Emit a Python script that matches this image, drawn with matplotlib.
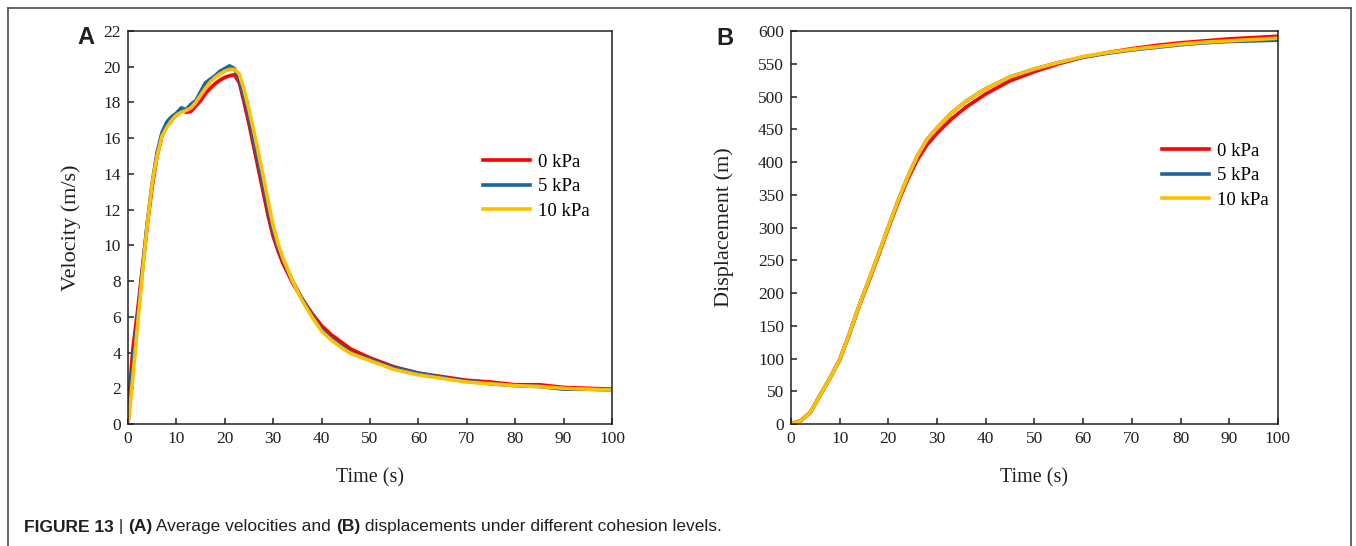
import matplotlib
matplotlib.use("Agg")
import matplotlib.pyplot as plt
from matplotlib.lines import Line2D

plt.rcParams['font.family'] = ['Liberation Serif', 'DejaVu Serif']

# --- velocity (A) ---
t_v = [0, 0.5, 1, 2, 3, 4, 5, 6, 7, 8, 9, 10, 11, 12, 13, 14, 15, 16, 17, 18, 19, 20,
       21, 22, 23, 24, 25, 26, 27, 28, 29, 30, 31, 32, 34, 36, 38, 40, 42, 44, 46, 48, 50,
       55, 60, 65, 70, 75, 80, 85, 90, 95, 100]
v_0kpa = [0, 2.5, 4.2, 6.4, 8.8, 11.2, 13.3, 15.0, 16.1, 16.7, 17.0, 17.3, 17.6, 17.45, 17.5,
          17.8, 18.1, 18.5, 18.8, 19.05, 19.25, 19.4, 19.5, 19.55, 19.1, 18.0, 16.8, 15.5,
          14.2, 12.9, 11.6, 10.5, 9.7, 9.0, 7.9, 7.0, 6.2, 5.5, 5.0, 4.6, 4.2, 3.95, 3.7,
          3.2, 2.85, 2.65, 2.45, 2.35, 2.2, 2.2, 2.05, 2.0, 1.95]
v_5kpa = [0, 1.8, 3.4, 6.0, 8.7, 11.3, 13.5, 15.2, 16.3, 16.9, 17.2, 17.4, 17.7, 17.6, 17.9,
          18.1, 18.6, 19.1, 19.3, 19.5, 19.75, 19.9, 20.05, 19.9, 19.3, 18.3, 17.2, 15.9,
          14.6, 13.3, 12.0, 10.8, 9.9, 9.2, 8.0, 7.0, 6.1, 5.3, 4.8, 4.4, 4.0, 3.8, 3.6,
          3.15, 2.85, 2.6, 2.4, 2.25, 2.15, 2.1, 1.95, 1.95, 1.9]
v_10kpa = [0, 1.2, 2.6, 5.6, 8.5, 11.2, 13.5, 15.0, 16.1, 16.6, 17.0, 17.3, 17.45, 17.55, 17.7,
           18.0, 18.4, 18.8, 19.15, 19.4, 19.6, 19.75, 19.85, 19.85, 19.6, 18.7, 17.6, 16.4,
           15.1, 13.8, 12.4, 11.1, 10.1, 9.3, 8.0, 6.9, 6.0, 5.2, 4.7, 4.3, 3.95, 3.75, 3.55,
           3.05, 2.75, 2.55, 2.35, 2.25, 2.15, 2.1, 2.0, 1.95, 1.9]

# --- displacement (B) ---
t_d = [0, 2, 4, 6, 8, 10, 12, 14, 16, 18, 20, 22, 24, 26, 28, 30, 33, 36, 40, 45, 50,
       55, 60, 65, 70, 75, 80, 85, 90, 95, 100]
d_0kpa = [0, 5, 18, 44, 70, 98, 137, 180, 218, 258, 299, 338, 374, 404, 427, 444, 466, 484,
          504, 524, 538, 550, 560, 567, 573, 578, 582, 585, 588, 590, 592]
d_5kpa = [0, 5, 18, 44, 70, 98, 138, 181, 220, 260, 301, 341, 378, 410, 435, 452, 475, 493,
          512, 530, 542, 552, 560, 566, 571, 575, 579, 582, 584, 585, 586]
d_10kpa = [0, 5, 18, 44, 70, 98, 138, 181, 220, 260, 301, 341, 378, 410, 435, 452, 475, 493,
           512, 530, 542, 552, 561, 567, 572, 576, 580, 583, 585, 587, 589]

labels = ['0 kPa', '5 kPa', '10 kPa']
colors = ['#ff0000', '#1a63a5', '#ffc000']
ink = '#231f20'

fig = plt.figure(figsize=(13.56, 5.46), dpi=100)
axA = fig.add_axes([0.0944, 0.2234, 0.3569, 0.7198])
axB = fig.add_axes([0.5833, 0.2234, 0.3591, 0.7198])

for ax in (axA, axB):
    for s in ax.spines.values():
        s.set_linewidth(1.1)
        s.set_color(ink)
    ax.tick_params(direction='in', length=4, width=1.1, labelsize=12.5,
                   colors=ink, pad=5)
    ax.set_xlim(0, 100)
    ax.set_xticks(range(0, 101, 10))
    ax.set_xlabel('Time (s)', fontsize=14.5, color=ink)
    ax.xaxis.set_label_coords(0.5, -0.112)

for v, c, lab in zip([v_0kpa, v_5kpa, v_10kpa], colors, labels):
    axA.plot(t_v, v, color=c, lw=2.6, label=lab)
axA.set_ylim(0, 22)
axA.set_yticks(range(0, 23, 2))
axA.set_ylabel('Velocity (m/s)', fontsize=16, color=ink)
axA.yaxis.set_label_coords(-0.097, 0.5)

for d, c, lab in zip([d_0kpa, d_5kpa, d_10kpa], colors, labels):
    axB.plot(t_d, d, color=c, lw=2.6, label=lab)
axB.set_ylim(0, 600)
axB.set_yticks(range(0, 601, 50))
axB.set_ylabel('Displacement (m)', fontsize=16, color=ink)
axB.yaxis.set_label_coords(-0.117, 0.5)

leg_kw = dict(frameon=False, fontsize=13.5, handlelength=2.5, handletextpad=0.45,
              labelspacing=0.4, borderpad=0, borderaxespad=0, loc='upper left')
axA.legend(bbox_to_anchor=(0.733, 0.688), **leg_kw)
axB.legend(bbox_to_anchor=(0.762, 0.716), **leg_kw)

sans = ['Liberation Sans', 'DejaVu Sans']
fig.text(0.0634, 0.932, 'A', family=sans, weight='bold', fontsize=17,
         ha='center', va='center', color=ink)
fig.text(0.5347, 0.9286, 'B', family=sans, weight='bold', fontsize=17,
         ha='center', va='center', color=ink)

# outer frame (open at the bottom)
W, H = 1356, 546
fx0, fx1, fy1 = 8 / W, 1351 / W, 1 - 8 / H
for xs, ys in [((fx0, fx0), (0, fy1)), ((fx0, fx1), (fy1, fy1)), ((fx1, fx1), (fy1, 0))]:
    fig.add_artist(Line2D(xs, ys, transform=fig.transFigure, color='#4d4d4d', lw=1.2))

# caption with bold pieces
pieces = [('FIGURE 13', 'bold'), (' | ', 'normal'), ('(A)', 'bold'),
          (' Average velocities and ', 'normal'), ('(B)', 'bold'),
          (' displacements under different cohesion levels.', 'normal')]
renderer = fig.canvas.get_renderer()
x = 24
cap_y = 1 - 527 / H
for txt, wt in pieces:
    t = fig.text(x / W, cap_y, txt, family=sans, weight=wt, fontsize=12.5,
                 va='center', ha='left', color=ink)
    bb = t.get_window_extent(renderer=renderer)
    x += bb.width

fig.savefig('out.png', dpi=100)
